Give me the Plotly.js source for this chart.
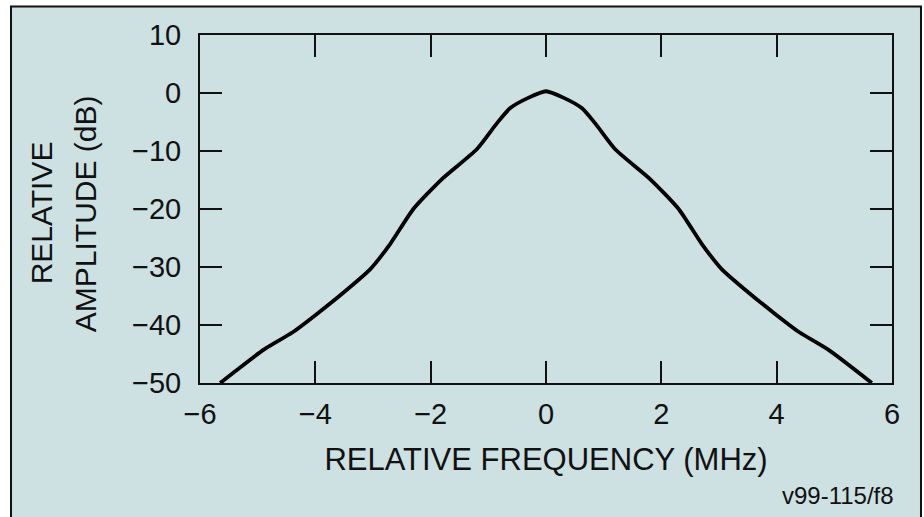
<!DOCTYPE html>
<html>
<head>
<meta charset="utf-8">
<script src="https://cdn.plot.ly/plotly-3.0.1.min.js"></script>
<style>html,body{margin:0;padding:0;background:#fff;}#chart{width:924px;height:517px;}</style>
</head>
<body>
<div id="chart"></div>
<script>
// Data
const freqMHz = [-5.65, -4.9, -4.4, -4.0, -3.5, -3.05, -2.7, -2.3, -1.8, -1.2, -0.85, -0.62, -0.3, 0, 0.3, 0.62, 0.85, 1.2, 1.8, 2.3, 2.7, 3.05, 3.5, 4.0, 4.4, 4.9, 5.65];
const amplitudeDb = [-50, -44.3, -41.3, -38.3, -34.3, -30.4, -26, -20, -14.8, -9.7, -5.2, -2.6, -0.8, 0.3, -0.8, -2.6, -5.2, -9.7, -14.8, -20, -26, -30.4, -34.3, -38.3, -41.3, -44.3, -50];
const xTicks = [-6, -4, -2, 0, 2, 4, 6];
const xTickLabels = ['\u22126', '\u22124', '\u22122', '0', '2', '4', '6'];
const yTicks = [10, 0, -10, -20, -30, -40, -50];
const yTickLabels = ['10', '0', '\u221210', '\u221220', '\u221230', '\u221240', '\u221250'];

const BG = '#cde0e2';
const FONT = 'Liberation Sans, Arial, Helvetica, sans-serif';

const trace = {
  x: freqMHz,
  y: amplitudeDb,
  type: 'scatter',
  mode: 'lines',
  line: {color: '#000', width: 3.8, shape: 'spline', smoothing: 0.6},
  hoverinfo: 'x+y',
  showlegend: false
};

const axisCommon = {
  showline: true, linecolor: '#111', linewidth: 2, mirror: 'ticks',
  ticks: 'inside', ticklen: 22, tickwidth: 2, tickcolor: '#111',
  showgrid: false, zeroline: false, fixedrange: true,
  tickfont: {family: FONT, size: 29, color: '#111'}
};

const layout = {
  width: 924, height: 517,
  margin: {l: 200, r: 32, t: 35, b: 134, pad: 0},
  paper_bgcolor: '#ffffff',
  plot_bgcolor: BG,
  font: {family: FONT, color: '#111'},
  xaxis: Object.assign({}, axisCommon, {
    range: [-6, 6], tickmode: 'array', tickvals: xTicks, ticktext: xTickLabels,
    ticklabelstandoff: 4,
    title: {text: 'RELATIVE FREQUENCY (MHz)', font: {family: FONT, size: 31, color: '#111'}, standoff: 20}
  }),
  yaxis: Object.assign({}, axisCommon, {
    range: [-50, 10], tickmode: 'array', tickvals: yTicks, ticktext: yTickLabels,
    ticklabelstandoff: 11
  }),
  shapes: [{
    type: 'rect', xref: 'paper', yref: 'paper', layer: 'below',
    x0: -0.2731, x1: 1.0419, y0: -0.42, y1: 1.0818,
    line: {color: '#111', width: 2}, fillcolor: BG
  }],
  annotations: [
    {text: 'RELATIVE', xref: 'paper', yref: 'paper', x: -0.2295, y: 0.488, xanchor: 'center', yanchor: 'middle',
     textangle: -90, showarrow: false, font: {family: FONT, size: 30, color: '#111'}},
    {text: 'AMPLITUDE (dB)', xref: 'paper', yref: 'paper', x: -0.1662, y: 0.488, xanchor: 'center', yanchor: 'middle',
     textangle: -90, showarrow: false, font: {family: FONT, size: 30, color: '#111'}},
    {text: 'v99-115/f8', xref: 'paper', yref: 'paper', x: 1.0058, y: -0.3247, xanchor: 'right', yanchor: 'middle',
     showarrow: false, font: {family: FONT, size: 24, color: '#111'}}
  ]
};

Plotly.newPlot('chart', [trace], layout, {displayModeBar: false, staticPlot: true});
</script>
</body>
</html>
